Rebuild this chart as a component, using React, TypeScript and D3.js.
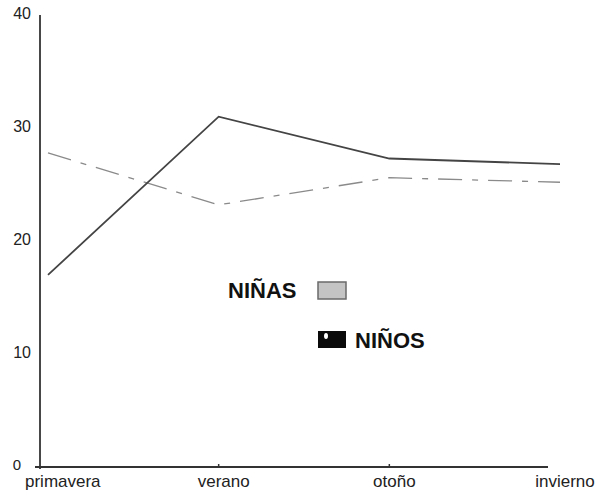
import * as d3 from "d3";

const seasons = ["primavera", "verano", "otoño", "invierno"];
const ninos = [17, 31, 27.3, 26.8];
const ninas = [27.8, 23.2, 25.6, 25.2];
const yTicks = [0, 10, 20, 30, 40];

export default function App() {
  const width = 603;
  const height = 500;
  const axisX = 40;
  const axisY = 467;

  const y = d3.scaleLinear().domain([0, 40]).range([axisY, 15]);
  const x = d3.scalePoint<string>().domain(seasons).range([48, 560]);

  const line = d3
    .line<number>()
    .x((_, i) => x(seasons[i]) as number)
    .y((d) => y(d));

  const font = "'Liberation Sans', Arial, sans-serif";

  return (
    <svg
      width={width}
      height={height}
      style={{ position: "absolute", left: 0, top: 0, background: "#fff" }}
      fontFamily={font}
    >
      {/* axes */}
      <line x1={axisX} x2={axisX} y1={y(40)} y2={axisY + 2} stroke="#333" strokeWidth={1.8} />
      <line x1={35} x2={548} y1={axisY} y2={axisY} stroke="#333" strokeWidth={1.8} />
      {seasons.slice(1, 3).map((s) => (
        <line key={s} x1={x(s)} x2={x(s)} y1={axisY - 3} y2={axisY} stroke="#333" strokeWidth={1.5} />
      ))}
      {yTicks.map((t) => (
        <text
          key={t}
          x={t === 0 ? 21 : 31}
          y={y(t) - 2}
          dy="0.35em"
          textAnchor="end"
          fontSize={t === 0 ? 15 : 16}
          fill="#222"
        >
          {t}
        </text>
      ))}
      {seasons.map((s, i) => (
        <text
          key={s}
          x={i === 0 ? 25 : (x(s) as number) + 5}
          y={487}
          textAnchor={i === 0 ? "start" : "middle"}
          fontSize={17}
          fill="#222"
        >
          {s}
        </text>
      ))}

      {/* series */}
      <path
        d={line(ninas) || ""}
        fill="none"
        stroke="#8a8a8a"
        strokeWidth={1.3}
        strokeDasharray="24 10 6 10"
      />
      <path d={line(ninos) || ""} fill="none" stroke="#444" strokeWidth={1.8} />

      {/* legend */}
      <text x={228} y={298} fontSize={22} fontWeight="bold" fill="#111">
        NIÑAS
      </text>
      <rect x={318} y={282} width={28} height={17} fill="#c4c4c4" stroke="#6a6a6a" strokeWidth={1.5} />
      <rect x={318} y={331} width={28} height={17} fill="#0a0a0a" />
      <ellipse cx={326} cy={336} rx={2} ry={3} fill="#fff" />
      <text x={355} y={348} fontSize={22} fontWeight="bold" fill="#111">
        NIÑOS
      </text>
    </svg>
  );
}
